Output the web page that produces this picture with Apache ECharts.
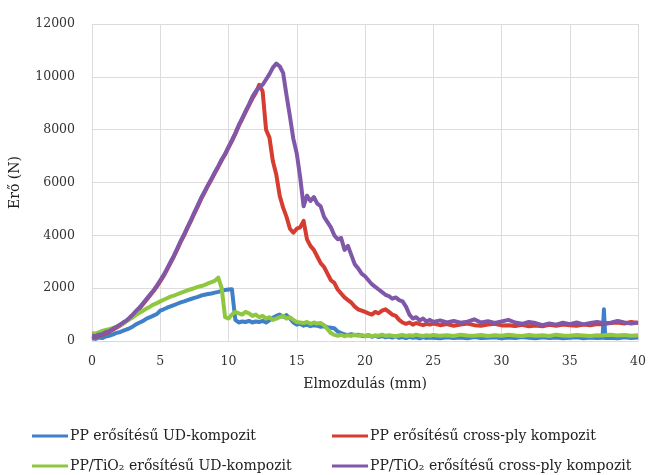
<!DOCTYPE html>
<html>
<head>
<meta charset="utf-8">
<script src="https://cdn.jsdelivr.net/npm/echarts@6/dist/echarts.min.js"></script>
<style>html,body{margin:0;padding:0;background:#fff}#c{width:649px;height:475px}</style>
</head>
<body>
<div id="c"></div>
<script>
var xValues = [0,0.25,0.5,0.75,1,1.25,1.5,1.75,2,2.25,2.5,2.75,3,3.25,3.5,3.75,4,4.25,4.5,4.75,
5,5.25,5.5,5.75,6,6.25,6.5,6.75,7,7.25,7.5,7.75,8,8.25,8.5,8.75,9,9.25,9.5,9.75,
10,10.25,10.5,10.75,11,11.25,11.5,11.75,12,12.25,12.5,12.75,13,13.25,13.5,13.75,14,14.25,14.5,14.75,
15,15.25,15.5,15.75,16,16.25,16.5,16.75,17,17.25,17.5,17.75,18,18.25,18.5,18.75,19,19.25,19.5,19.75,
20,20.25,20.5,20.75,21,21.25,21.5,21.75,22,22.25,22.5,22.75,23,23.25,23.5,23.75,24,24.25,24.5,24.75,
25,25.5,26,26.5,27,27.5,28,28.5,29,29.5,30,30.5,31,31.5,32,32.5,33,33.5,34,34.5,
35,35.5,36,36.5,37,37.4,37.5,37.6,38,38.5,39,39.5,40];

var ppUD = [100,80,130,110,170,200,240,300,330,380,430,480,550,640,700,760,850,900,960,1020,
1150,1200,1260,1310,1360,1410,1460,1500,1550,1590,1630,1670,1720,1750,1780,1800,1830,1860,1900,1930,
1950,1960,800,700,740,720,760,700,740,720,760,700,780,880,950,1000,920,980,850,700,
620,650,580,620,560,600,580,540,560,520,500,480,360,300,250,230,260,220,240,200,
180,220,160,200,150,190,140,170,130,180,120,150,110,160,120,140,100,150,110,130,
120,100,140,110,130,100,150,110,120,140,100,130,110,150,120,100,140,110,130,100,
120,140,100,130,110,120,1200,110,120,100,140,110,130];

var ppCross = [180,160,210,240,300,340,420,490,570,650,740,850,970,1110,1240,1400,1560,1720,1880,2060,
2260,2460,2700,2950,3200,3470,3750,4000,4280,4550,4830,5100,5380,5630,5880,6110,6360,6590,6840,7060,
7320,7570,7840,8140,8400,8660,8920,9180,9400,9700,9450,8000,7700,6800,6300,5500,5050,4700,4250,4100,
4250,4300,4550,3850,3600,3450,3200,2950,2800,2550,2300,2200,1950,1800,1650,1550,1450,1300,1200,1150,
1100,1050,1000,1100,1050,1150,1200,1100,1000,950,800,700,650,700,620,680,640,600,650,620,
660,600,640,580,620,660,600,580,620,650,590,600,570,610,560,590,560,610,580,620,
600,580,620,600,640,630,620,650,680,700,660,720,680];

var tiUD = [300,280,330,380,420,450,490,530,600,660,740,820,900,1000,1080,1150,1230,1300,1380,1430,
1500,1560,1620,1680,1720,1770,1820,1870,1920,1960,2000,2050,2080,2120,2180,2230,2280,2400,2000,900,
850,1000,1100,1050,1000,1100,1050,950,1000,900,950,850,900,800,850,900,950,850,900,800,
720,700,680,720,650,700,660,680,600,450,300,230,200,230,180,220,190,240,200,230,
190,220,180,210,200,240,190,220,200,180,210,230,190,220,200,240,210,190,220,200,
230,200,220,190,240,210,200,230,190,220,200,240,210,190,230,200,220,190,240,210,
200,230,210,190,220,210,200,230,240,210,230,200,220];

var tiCross = [200,180,240,260,330,370,450,520,600,690,770,880,1010,1150,1280,1440,1600,1760,1910,2100,
2300,2500,2740,2990,3230,3510,3790,4040,4320,4580,4870,5140,5420,5660,5910,6140,6390,6620,6870,7080,
7350,7600,7870,8170,8430,8700,8960,9240,9450,9600,9700,9900,10100,10350,10500,10400,10150,9300,8500,7650,
7100,6200,5100,5500,5300,5450,5200,5100,4700,4500,4300,4000,3850,3900,3450,3600,3250,2900,2750,2550,
2450,2300,2150,2050,1950,1850,1750,1700,1600,1650,1550,1500,1300,1000,850,900,780,850,740,800,
720,780,700,760,690,730,820,700,750,680,740,800,700,650,720,680,600,660,620,690,
640,700,630,680,720,680,650,670,690,760,700,660,700];

var seriesNames = ['PP erősítésű UD-kompozit','PP erősítésű cross-ply kompozit','PP/TiO₂ erősítésű UD-kompozit','PP/TiO₂ erősítésű cross-ply kompozit'];
var seriesColors = ['#3f80c9','#d63c30','#8fc740','#8058aa'];
var seriesValues = [ppUD, ppCross, tiUD, tiCross];
var xTicks = [0,5,10,15,20,25,30,35,40];
var yTicks = [0,2000,4000,6000,8000,10000,12000];

function pairs(ys){ return xValues.map(function(x,i){ return [x, ys[i]]; }); }

var FONT = 'DejaVu Serif';
var legendPos = [[32,429],[332,429],[32,459],[332,459]];
var chart = echarts.init(document.getElementById('c'), null, {renderer:'canvas'});
chart.setOption({
  animation:false,
  backgroundColor:'#fff',
  grid:{left:90, right:9, top:24, bottom:134},
  xAxis:{
    type:'value', min:xTicks[0], max:xTicks[xTicks.length-1], interval:5,
    name:'Elmozdulás (mm)', nameLocation:'middle', nameGap:36,
    nameTextStyle:{fontFamily:FONT, fontSize:14, color:'#222'},
    axisLine:{show:true, lineStyle:{color:'#d9d9d9', width:1}},
    axisTick:{show:false},
    axisLabel:{fontFamily:FONT, fontSize:12.5, color:'#333', margin:14},
    splitLine:{show:true, lineStyle:{color:'#dcdcdc', width:1}}
  },
  yAxis:{
    type:'value', min:yTicks[0], max:yTicks[yTicks.length-1], interval:2000,
    name:'Erő (N)', nameLocation:'middle', nameGap:70, nameRotate:90,
    nameTextStyle:{fontFamily:FONT, fontSize:14, color:'#222'},
    axisLine:{show:false}, axisTick:{show:false},
    axisLabel:{fontFamily:FONT, fontSize:12.5, color:'#333', margin:17,
      formatter:function(v){ return String(v); }},
    splitLine:{show:true, lineStyle:{color:'#dcdcdc', width:1}}
  },
  legend: seriesNames.map(function(n,i){
    return {left:legendPos[i][0], top:legendPos[i][1], padding:0, itemWidth:36, itemHeight:3, icon:'rect',
      data:[n], textStyle:{fontFamily:FONT, fontSize:14, color:'#222', padding:[0,0,0,-3]}};
  }),
  series: seriesValues.map(function(v,i){
    return {name:seriesNames[i], type:'line', data:pairs(v), showSymbol:false, symbol:'none',
      color:seriesColors[i], lineStyle:{width:4, color:seriesColors[i], join:'round'}};
  })
});
</script>
</body>
</html>
